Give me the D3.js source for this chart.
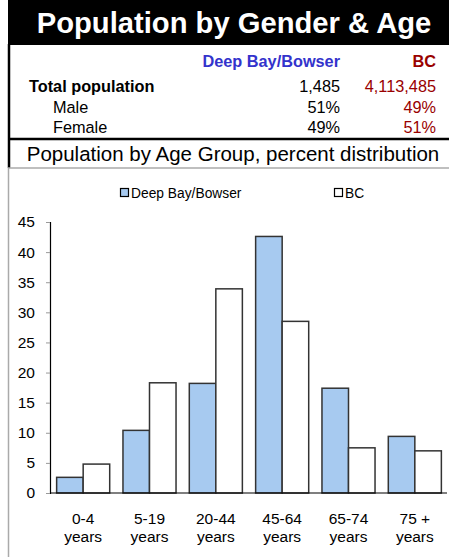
<!DOCTYPE html>
<html>
<head>
<meta charset="UTF-8" />
<title>Population by Gender & Age</title>
<script src="https://cdn.jsdelivr.net/npm/d3@7"></script>
<style>
  body { margin: 0; background: #fff; font-family: "Liberation Sans", Arial, sans-serif; }
</style>
</head>
<body>
<div id="chart"></div>
<script>
// ---- data ----
const ageGroups = ["0-4|years", "5-19|years", "20-44|years", "45-64|years", "65-74|years", "75 +|years"];
const deepBay = [2.6, 10.4, 18.2, 42.6, 17.4, 9.4];
const bc = [4.8, 18.3, 33.9, 28.5, 7.5, 7.0];
const seriesNames = ["Deep Bay/Bowser", "BC"];
const yTicks = [0, 5, 10, 15, 20, 25, 30, 35, 40, 45];

const tableRows = [
  { label: "Total population", a: "1,485", b: "4,113,485", bold: true, indent: 29 },
  { label: "Male", a: "51%", b: "49%", bold: false, indent: 53 },
  { label: "Female", a: "49%", b: "51%", bold: false, indent: 53 }
];

const W = 449, H = 557;
const svg = d3.select("#chart").append("svg").attr("width", W).attr("height", H);

// title band
svg.append("rect").attr("x", 8).attr("y", 0).attr("width", W - 8).attr("height", 45).attr("fill", "#000");
svg.append("text").attr("x", 234).attr("y", 33).attr("text-anchor", "middle")
  .attr("fill", "#fff").attr("font-weight", "bold").attr("font-size", 29.2)
  .text("Population by Gender & Age");

// table borders
svg.append("line").attr("x1", 9).attr("x2", 9).attr("y1", 44).attr("y2", 168).attr("stroke", "#000").attr("stroke-width", 2.5);
svg.append("line").attr("x1", 8).attr("x2", W).attr("y1", 139).attr("y2", 139).attr("stroke", "#000").attr("stroke-width", 2.5);
svg.append("line").attr("x1", 8).attr("x2", W).attr("y1", 168).attr("y2", 168).attr("stroke", "#aaa").attr("stroke-width", 1.5);
svg.append("line").attr("x1", 8.5).attr("x2", 8.5).attr("y1", 168).attr("y2", H).attr("stroke", "#aaa").attr("stroke-width", 1.5);

// table header
svg.append("text").attr("x", 340).attr("y", 67).attr("text-anchor", "end")
  .attr("fill", "#3333cc").attr("font-weight", "bold").attr("font-size", 16.3).text(seriesNames[0]);
svg.append("text").attr("x", 436).attr("y", 67).attr("text-anchor", "end")
  .attr("fill", "#990000").attr("font-weight", "bold").attr("font-size", 16.3).text(seriesNames[1]);

tableRows.forEach((r, i) => {
  const y = 92 + i * 20.5;
  svg.append("text").attr("x", r.indent).attr("y", y).attr("font-size", 16.3)
    .attr("font-weight", r.bold ? "bold" : "normal").attr("fill", "#000").text(r.label);
  svg.append("text").attr("x", 340).attr("y", y).attr("text-anchor", "end").attr("font-size", 16.3).attr("fill", "#000").text(r.a);
  svg.append("text").attr("x", 436).attr("y", y).attr("text-anchor", "end").attr("font-size", 16.3).attr("fill", "#990000").text(r.b);
});

svg.append("text").attr("x", 233).attr("y", 161).attr("text-anchor", "middle")
  .attr("font-size", 20.5).attr("fill", "#000").text("Population by Age Group, percent distribution");

// ---- chart ----
const m = { left: 50, right: 1, top: 222, bottom: 493 };
const x0 = d3.scaleBand().domain(ageGroups).range([m.left, W - m.right]).paddingInner(0.2).paddingOuter(0.1);
const x1 = d3.scaleBand().domain(seriesNames).range([0, x0.bandwidth()]);
const y = d3.scaleLinear().domain([0, 45]).range([m.bottom, m.top]);
const colors = { "Deep Bay/Bowser": "#a7caf0", "BC": "#ffffff" };

const groups = svg.append("g").selectAll("g").data(ageGroups).join("g")
  .attr("transform", d => `translate(${x0(d)},0)`);
groups.selectAll("rect")
  .data((d, i) => [{ s: seriesNames[0], v: deepBay[i] }, { s: seriesNames[1], v: bc[i] }])
  .join("rect")
  .attr("x", d => x1(d.s))
  .attr("width", x1.bandwidth())
  .attr("y", d => y(d.v))
  .attr("height", d => y(0) - y(d.v))
  .attr("fill", d => colors[d.s])
  .attr("stroke", "#333")
  .attr("stroke-width", 1.5);

// y axis
const yAxis = svg.append("g").attr("transform", `translate(${m.left},0)`)
  .call(d3.axisLeft(y).tickValues(yTicks).tickSize(4).tickPadding(11));
yAxis.select(".domain").attr("stroke", "#000").attr("stroke-width", 1.2);
yAxis.selectAll(".tick line").attr("stroke", "#999");
yAxis.selectAll(".tick text").attr("font-size", 15.5).attr("fill", "#000")
  .attr("font-family", "'Liberation Sans', Arial, sans-serif");

// x axis baseline
svg.append("line").attr("x1", m.left).attr("x2", W - 2).attr("y1", y(0)).attr("y2", y(0))
  .attr("stroke", "#000").attr("stroke-width", 1.2);

// x labels
ageGroups.forEach(g => {
  const parts = g.split("|");
  const t = svg.append("text").attr("text-anchor", "middle").attr("font-size", 15.5).attr("fill", "#000");
  parts.forEach((p, k) => {
    t.append("tspan").attr("x", x0(g) + x0.bandwidth() / 2).attr("y", 524 + k * 17.5).text(p);
  });
});

// legend
const legend = [{ name: seriesNames[0], x: 120 }, { name: seriesNames[1], x: 334 }];
legend.forEach(l => {
  svg.append("rect").attr("x", l.x + 0.5).attr("y", 188.5).attr("width", 8).attr("height", 8)
    .attr("fill", colors[l.name]).attr("stroke", "#000").attr("stroke-width", 1.2);
  svg.append("text").attr("x", l.x + 11).attr("y", 197.5).attr("font-size", 13.8).attr("fill", "#000").text(l.name);
});
</script>
</body>
</html>
